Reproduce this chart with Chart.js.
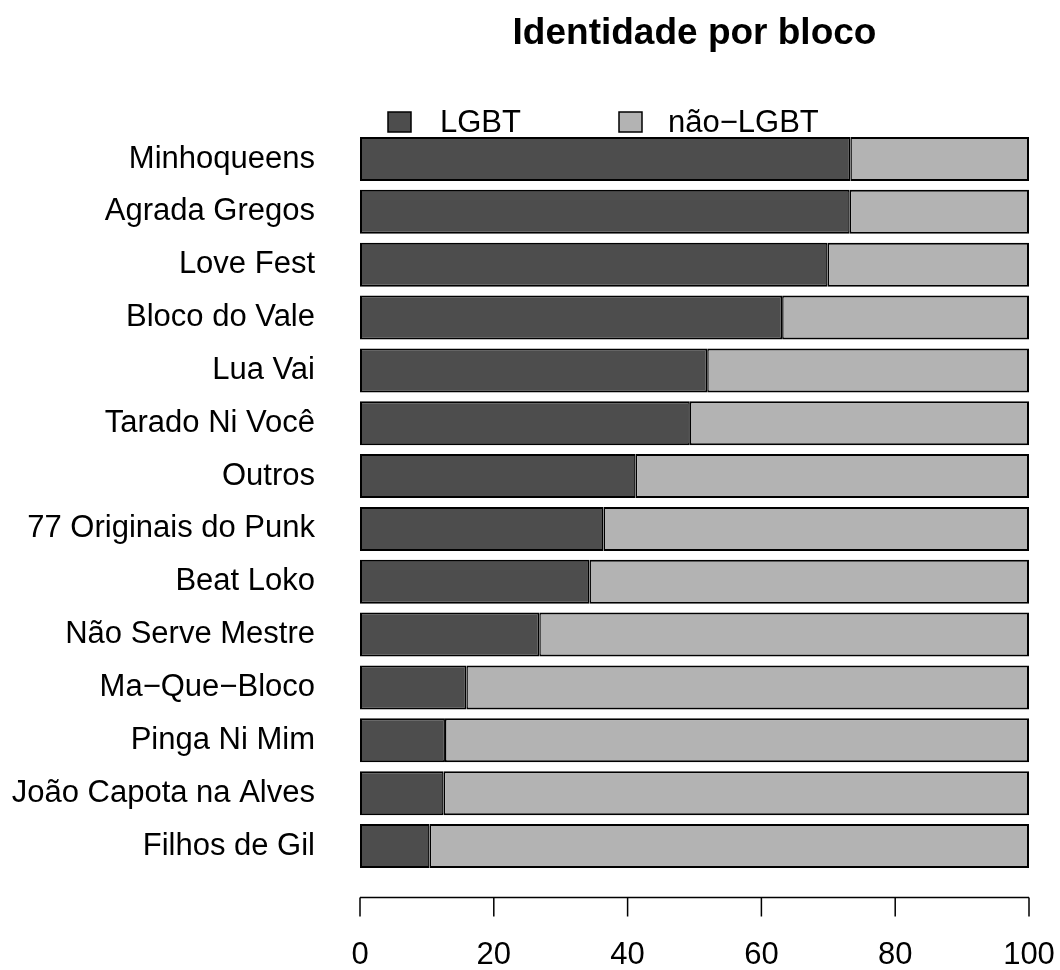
<!DOCTYPE html>
<html>
<head>
<meta charset="utf-8">
<title>Identidade por bloco</title>
<script src="https://cdn.jsdelivr.net/npm/chart.js@4"></script>
<style>
  html, body { margin: 0; padding: 0; background: #ffffff; }
  canvas { display: block; }
</style>
</head>
<body>
<canvas id="myChart" width="1060" height="970"></canvas>
<script>
// categories, top to bottom
const blocos = [
  "Minhoqueens", "Agrada Gregos", "Love Fest", "Bloco do Vale", "Lua Vai",
  "Tarado Ni Você", "Outros", "77 Originais do Punk", "Beat Loko",
  "Não Serve Mestre", "Ma\u2212Que\u2212Bloco", "Pinga Ni Mim",
  "João Capota na Alves", "Filhos de Gil"
];

// share of each group (%)
const lgbt = [73.3, 73.2, 69.9, 63.1, 51.9, 49.3, 41.2, 36.4, 34.3, 26.8, 15.9, 12.7, 12.5, 10.4];
const naoLgbt = [26.7, 26.8, 30.1, 36.9, 48.1, 50.7, 58.8, 63.6, 65.7, 73.2, 84.1, 87.3, 87.5, 89.6];

// x axis tick labels
const xTicks = [0, 20, 40, 60, 80, 100];

const seriesNames = ["LGBT", "n\u00e3o\u2212LGBT"];
const fontFamily = "'Liberation Sans', Arial, Helvetica, sans-serif";

Chart.defaults.font.family = fontFamily;
Chart.defaults.color = "#000000";

// R-style axis, drawn a bit below the plot region
const offsetAxis = {
  id: "offsetAxis",
  afterDraw(chart) {
    const ctx = chart.ctx;
    const x = chart.scales.x;
    const y0 = chart.chartArea.bottom + 25;
    ctx.save();
    ctx.strokeStyle = "#000000";
    ctx.lineWidth = 1.5;
    ctx.beginPath();
    ctx.moveTo(x.getPixelForValue(xTicks[0]), y0);
    ctx.lineTo(x.getPixelForValue(xTicks[xTicks.length - 1]), y0);
    xTicks.forEach(function (v) {
      const px = x.getPixelForValue(v);
      ctx.moveTo(px, y0);
      ctx.lineTo(px, y0 + 19);
    });
    ctx.stroke();
    ctx.fillStyle = "#000000";
    ctx.font = "31px " + fontFamily;
    ctx.textAlign = "center";
    ctx.textBaseline = "middle";
    xTicks.forEach(function (v) {
      ctx.fillText(String(v), x.getPixelForValue(v), y0 + 58);
    });
    ctx.restore();
  },
};

// horizontal legend without frame, just above the first bar
const topLegend = {
  id: "topLegend",
  afterDraw(chart) {
    const ctx = chart.ctx;
    const left = chart.chartArea.left;
    const items = [
      { box: left + 28, text: left + 80 },
      { box: left + 259, text: left + 308 },
    ];
    ctx.save();
    ctx.font = "31px " + fontFamily;
    ctx.textBaseline = "middle";
    ctx.textAlign = "left";
    chart.data.datasets.forEach(function (ds, i) {
      const it = items[i];
      ctx.fillStyle = ds.backgroundColor;
      ctx.fillRect(it.box, 112, 23, 20);
      ctx.strokeStyle = "#000000";
      ctx.lineWidth = 1.5;
      ctx.strokeRect(it.box, 112, 23, 20);
      ctx.fillStyle = "#000000";
      ctx.fillText(ds.label, it.text, 123);
    });
    ctx.restore();
  },
};

const ctx = document.getElementById("myChart").getContext("2d");

const myChart = new Chart(ctx, {
  type: "bar",
  data: {
    labels: blocos,
    datasets: [
      {
        label: seriesNames[0],
        data: lgbt,
        backgroundColor: "#4d4d4d",
        borderColor: "#000000",
        borderWidth: { top: 2, bottom: 2, left: 2, right: 1.5 },
        borderSkipped: false,
        barPercentage: 0.833,
        categoryPercentage: 1,
      },
      {
        label: seriesNames[1],
        data: naoLgbt,
        backgroundColor: "#b3b3b3",
        borderColor: "#000000",
        borderWidth: { top: 2, bottom: 2, left: 1.5, right: 2 },
        borderSkipped: false,
        barPercentage: 0.833,
        categoryPercentage: 1,
      },
    ],
  },
  options: {
    indexAxis: "y",
    responsive: false,
    animation: false,
    devicePixelRatio: 1,
    layout: {
      padding: { left: 0, right: 31, top: 0, bottom: 97.6 },
    },
    scales: {
      x: {
        type: "linear",
        stacked: true,
        min: 0,
        max: 100,
        display: false,
      },
      y: {
        stacked: true,
        grid: { display: false, drawTicks: false },
        border: { display: false },
        ticks: {
          color: "#000000",
          font: { size: 31 },
          padding: 45,
          autoSkip: false,
        },
        afterFit: function (scale) {
          scale.width = 360;
        },
      },
    },
    plugins: {
      legend: { display: false },
      tooltip: { enabled: false },
      title: {
        display: true,
        fullSize: false,
        text: "Identidade por bloco",
        color: "#000000",
        font: { size: 37, weight: "bold" },
        padding: { top: 11.8, bottom: 76.4 },
      },
    },
  },
  plugins: [offsetAxis, topLegend],
});
</script>
</body>
</html>
